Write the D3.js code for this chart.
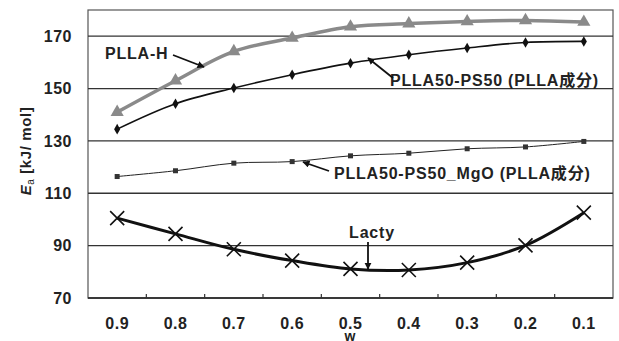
<!DOCTYPE html>
<html>
<head>
<meta charset="utf-8">
<script src="https://cdn.jsdelivr.net/npm/d3@7"></script>
<style>
  body { margin: 0; background: #fff; }
  text { font-family: "Liberation Sans", Arial, "Noto Sans CJK JP", sans-serif; }
</style>
</head>
<body>
<script>
const width = 619;
const height = 341;

// data
const wValues = ["0.9", "0.8", "0.7", "0.6", "0.5", "0.4", "0.3", "0.2", "0.1"];
const pllaH = [141, 153, 164.2, 169.3, 173.6, 174.8, 175.6, 176, 175.4];
const pllaPs = [134.5, 144.2, 150.2, 155.3, 159.7, 162.9, 165.5, 167.6, 168];
const pllaPsMgO = [116.4, 118.6, 121.5, 122.1, 124.3, 125.3, 127, 127.7, 129.8];
const lacty = [100.5, 94.5, 88.6, 84.3, 81.1, 80.7, 83.5, 90.1, 102.6];
const yTicks = [70, 90, 110, 130, 150, 170];

const margin = { top: 10, right: 6, bottom: 43, left: 88 };

const svg = d3
    .select("body")
    .append("svg")
    .attr("width", width)
    .attr("height", height);

const x = d3
    .scaleBand()
    .domain(wValues)
    .range([margin.left, width - margin.right]);

const y = d3
    .scaleLinear()
    .domain([70, 180])
    .range([height - margin.bottom, margin.top]);

// frame
svg.append("rect")
    .attr("x", margin.left)
    .attr("y", margin.top)
    .attr("width", width - margin.left - margin.right)
    .attr("height", height - margin.top - margin.bottom)
    .attr("fill", "none")
    .attr("stroke", "#555")
    .attr("stroke-width", 1.2);

// gridlines
svg.selectAll(".grid")
    .data(yTicks)
    .join("line")
    .attr("x1", margin.left)
    .attr("x2", width - margin.right)
    .attr("y1", (d) => y(d))
    .attr("y2", (d) => y(d))
    .attr("stroke", "#333")
    .attr("stroke-width", 1.3);

// y axis labels
svg.selectAll(".ylab")
    .data(yTicks)
    .join("text")
    .attr("x", margin.left - 16)
    .attr("y", (d) => y(d))
    .attr("dy", "0.36em")
    .attr("text-anchor", "end")
    .attr("font-size", 16)
    .attr("font-weight", "bold")
    .attr("letter-spacing", 0.5)
    .attr("fill", "#222")
    .text((d) => d);

// x axis: inner ticks at band edges
const xAxisY = y(70);
svg.selectAll(".xtick")
    .data(wValues.slice(1))
    .join("line")
    .attr("x1", (d) => x(d))
    .attr("x2", (d) => x(d))
    .attr("y1", xAxisY)
    .attr("y2", xAxisY - 4)
    .attr("stroke", "#333")
    .attr("stroke-width", 1.2);

svg.append("line")
    .attr("x1", margin.left)
    .attr("x2", width - margin.right)
    .attr("y1", xAxisY)
    .attr("y2", xAxisY)
    .attr("stroke", "#333")
    .attr("stroke-width", 1.5);

svg.selectAll(".xlab")
    .data(wValues)
    .join("text")
    .attr("x", (d) => x(d) + x.bandwidth() / 2)
    .attr("y", xAxisY + 25)
    .attr("dy", "0.36em")
    .attr("text-anchor", "middle")
    .attr("font-size", 16)
    .attr("font-weight", "bold")
    .attr("letter-spacing", 0.5)
    .attr("fill", "#222")
    .text((d) => d);

// axis titles
svg.append("text")
    .attr("x", 350)
    .attr("y", 341)
    .attr("text-anchor", "middle")
    .attr("font-size", 14)
    .attr("font-weight", "bold")
    .attr("fill", "#222")
    .text("w");

const yTitle = svg.append("text")
    .attr("transform", "translate(31,151) rotate(-90)")
    .attr("text-anchor", "middle")
    .attr("font-size", 15)
    .attr("letter-spacing", 0.6)
    .attr("fill", "#222");
yTitle.append("tspan").attr("font-style", "italic").attr("font-weight", "bold").text("E");
yTitle.append("tspan").attr("font-size", 10).attr("dy", 3).text("a");
yTitle.append("tspan").attr("dy", -3).attr("font-weight", "bold").text("  [kJ/ mol]");

const cx = (i) => x(wValues[i]) + x.bandwidth() / 2;

const line = (vals) =>
    d3.line()
        .x((d, i) => cx(i))
        .y((d) => y(d))
        .curve(d3.curveCatmullRom.alpha(0.5))(vals);

// PLLA-H, grey with triangles
svg.append("path")
    .attr("d", line(pllaH))
    .attr("fill", "none")
    .attr("stroke", "#8a8a8a")
    .attr("stroke-width", 3.5);
svg.selectAll(".tri")
    .data(pllaH)
    .join("path")
    .attr("transform", (d, i) => `translate(${cx(i)},${y(d)})`)
    .attr("d", d3.symbol(d3.symbolTriangle, 75))
    .attr("fill", "#8a8a8a");

// PLLA50-PS50, black with diamonds
svg.append("path")
    .attr("d", line(pllaPs))
    .attr("fill", "none")
    .attr("stroke", "#111")
    .attr("stroke-width", 1.6);
svg.selectAll(".dia")
    .data(pllaPs)
    .join("path")
    .attr("transform", (d, i) => `translate(${cx(i)},${y(d)})`)
    .attr("d", d3.symbol(d3.symbolDiamond, 32))
    .attr("fill", "#111");

// PLLA50-PS50_MgO, thin with small squares
svg.append("path")
    .attr("d", line(pllaPsMgO))
    .attr("fill", "none")
    .attr("stroke", "#222")
    .attr("stroke-width", 1);
svg.selectAll(".sq")
    .data(pllaPsMgO)
    .join("rect")
    .attr("x", (d, i) => cx(i) - 2.5)
    .attr("y", (d) => y(d) - 2.5)
    .attr("width", 5)
    .attr("height", 5)
    .attr("fill", "#333");

// Lacty, thick black with crosses
svg.append("path")
    .attr("d", line(lacty))
    .attr("fill", "none")
    .attr("stroke", "#111")
    .attr("stroke-width", 3);
svg.selectAll(".cross")
    .data(lacty)
    .join("path")
    .attr("transform", (d, i) => `translate(${cx(i)},${y(d)})`)
    .attr("d", "M-7,-7L7,7M-7,7L7,-7")
    .attr("stroke", "#111")
    .attr("stroke-width", 1.6);

// annotations
svg.append("defs")
    .append("marker")
    .attr("id", "head")
    .attr("viewBox", "0 0 10 10")
    .attr("refX", 9)
    .attr("refY", 5)
    .attr("markerWidth", 4)
    .attr("markerHeight", 4)
    .attr("orient", "auto")
    .append("path")
    .attr("d", "M0,0L10,5L0,10Z")
    .attr("fill", "#111");

function note(label, tx, ty, anchor, x1, y1, x2, y2) {
    svg.append("text")
        .attr("x", tx)
        .attr("y", ty)
        .attr("dy", "0.36em")
        .attr("text-anchor", anchor)
        .attr("font-size", 16)
        .attr("font-weight", "bold")
        .attr("letter-spacing", 0.8)
        .attr("fill", "#222")
        .text(label);
    svg.append("line")
        .attr("x1", x1)
        .attr("y1", y1)
        .attr("x2", x2)
        .attr("y2", y2)
        .attr("stroke", "#111")
        .attr("stroke-width", 1.8)
        .attr("marker-end", "url(#head)");
}

note("PLLA-H", 105, 53, "start", 173, 55, 204, 67);
note("PLLA50-PS50 (PLLA成分)", 390, 80, "start", 393, 78, 368, 58);
note("PLLA50-PS50_MgO (PLLA成分)", 334, 173, "start", 329, 171, 303, 162);
note("Lacty", 372, 232, "middle", 368, 242, 368, 269);
</script>
</body>
</html>
